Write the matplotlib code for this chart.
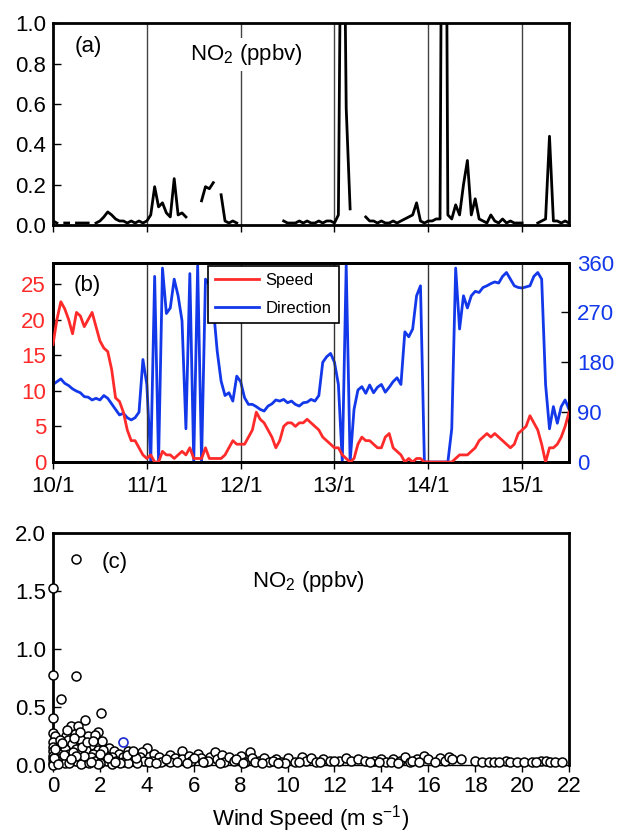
import numpy as np
import matplotlib
matplotlib.use("Agg")
import matplotlib.pyplot as plt

plt.rcParams['font.family'] = ['Liberation Sans', 'DejaVu Sans']
plt.rcParams['mathtext.fontset'] = 'custom'
plt.rcParams['mathtext.rm'] = 'Liberation Sans'
plt.rcParams['mathtext.it'] = 'Liberation Sans'

nan = np.nan

# ---------------- data ----------------
# hourly samples starting at 10/1 00:00 (132 h = 5.5 days)
hours = np.arange(133)

no2_ppbv = [
    0.02, 0.01, nan, 0.01, 0.01, nan, 0.01, 0.01, 0.01, 0.01,          # h0-9
    nan, 0.01, 0.02, 0.04, 0.065, 0.05, 0.03, 0.02, 0.02, 0.01,        # h10-19
    0.02, 0.01, 0.02, 0.01, 0.02, 0.05, 0.19, 0.09, 0.11, 0.06,        # h20-29
    0.04, 0.23, 0.05, 0.06, 0.04, nan, nan, nan, 0.12, 0.19,           # h30-39
    0.18, 0.21, nan, 0.15, 0.02, 0.01, 0.02, 0.01, nan, nan,           # h40-49
    nan, nan, nan, nan, nan, nan, nan, nan, nan, 0.02,                 # h50-59
    0.01, 0.01, 0.01, 0.02, 0.01, 0.02, 0.01, 0.01, 0.02, 0.01,        # h60-69
    0.02, 0.02, 0.01, 0.05, 2.5, 0.58, 0.08, nan, nan, nan,            # h70-79
    0.04, 0.02, 0.02, 0.01, 0.02, 0.01, 0.01, 0.02, 0.01, 0.02,        # h80-89
    0.03, 0.04, 0.05, 0.11, 0.02, 0.01, 0.02, 0.02, 0.03, 0.03,        # h90-99
    4.0, 0.05, 0.03, 0.10, 0.05, 0.20, 0.32, 0.05, 0.13, 0.03,         # h100-109
    0.02, 0.01, 0.05, 0.02, 0.01, 0.03, 0.01, 0.02, 0.01, 0.01,        # h110-119
    0.01, nan, nan, nan, 0.01, 0.02, 0.03, 0.44, 0.02, 0.02,           # h120-129
    0.01, 0.02, 0.01,                                                   # h130-132
]

wind_speed = [
    16.5, 20, 22.5, 21.5, 20, 18, 21, 20.5, 19, 20,                    # h0-9
    21, 19, 17, 16, 15.5, 13, 9, 8.5, 7, 4.5,                          # h10-19
    3, 3, 2, 1, 0.5, 1, 0, 0, 1.5, 1,                                  # h20-29
    1, 0.5, 1, 1.5, 1, 2, 0.5, 0.5, 0.5, 2,                            # h30-39
    0.5, 0.5, 0.5, 0.5, 1, 2, 3, 2.5, 2.5, 2.5,                        # h40-49
    3.5, 4.5, 7, 6, 5.5, 4.5, 3.5, 2, 3, 5,                            # h50-59
    5.5, 5.5, 5, 5.5, 5.5, 6, 5.5, 5, 4.5, 3.5,                        # h60-69
    3, 2.5, 2, 2, 1, 0.5, 0, 0.5, 2.5, 3.5,                            # h70-79
    3, 3, 2.5, 2, 2, 3.5, 4, 2, 1.5, 1,                                # h80-89
    0, 0.5, 0, 0.5, 0.5, 0, 0, 0, 0, 0,                                # h90-99
    0, 0, 0, 0.5, 1, 1, 1, 1.5, 2, 3,                                  # h100-109
    3.5, 4, 3.5, 4, 3.5, 3, 2.5, 2, 2.5, 4,                            # h110-119
    4.5, 5, 6.5, 5.5, 4.5, 2.5, 0, 2, 2, 2.5,                          # h120-129
    3.5, 5, 7,                                                          # h130-132
]

wind_direction = [
    140, 145, 150, 142, 138, 132, 128, 125, 118, 117,                  # h0-9
    112, 115, 112, 120, 115, 105, 95, 85, 88, 80,                      # h10-19
    76, 80, 90, 185, 140, 0, 335, 0, 350, 268,                         # h20-29
    278, 330, 300, 255, 60, 340, 0, 355, 0, 330,                       # h30-39
    320, 280, 200, 146, 120, 125, 110, 155, 145, 116,                  # h40-49
    104, 104, 100, 95, 92, 101, 105, 112, 110, 113,                    # h50-59
    107, 110, 104, 101, 107, 108, 113, 110, 120, 180,                  # h60-69
    190, 196, 180, 140, 0, 355, 0, 95, 130, 136,                       # h70-79
    124, 139, 125, 135, 140, 126, 135, 145, 152, 140,                  # h80-89
    235, 226, 240, 300, 318, 0, 0, 0, 0, 0,                            # h90-99
    0, 0, 60, 350, 240, 300, 278, 300, 308, 306,                       # h100-109
    315, 318, 322, 325, 323, 335, 342, 330, 318, 315,                  # h110-119
    314, 316, 318, 335, 342, 330, 140, 60, 100, 70,                    # h120-129
    100, 112, 95,                                                       # h130-132
]

date_labels = ['10/1', '11/1', '12/1', '13/1', '14/1', '15/1']

# scatter: NO2 (ppbv) versus wind speed (m s-1)
scatter_speed = [
    0, 1.0, 0, 1.0, 0.35, 2.05, 0, 1.35, 0.75, 1.05,
    0, 1.9, 0.1, 0.55, 1.5, 1.8, 0.95, 0.65, 1.2, 2.1,
    0, 0.3, 0.8, 1.6, 2.4, 0, 0.5, 1.0, 1.4, 1.9,
    2.6, 3.2, 4.0, 0, 0.25, 0.7, 1.1, 1.7, 2.2, 2.8,
    3.5, 3.8, 0, 0.4, 0.9, 1.3, 1.6, 2.0, 2.5, 3.0,
    3.3, 3.7, 0, 0.2, 0.6, 1.0, 1.4, 1.8, 2.3, 2.7,
    3.0, 3.4, 3.9, 0, 0.5, 1.2, 2.0, 2.5, 3.2, 3.6,
    0.15, 0.45, 0.85, 1.25, 1.55, 2.15, 2.85, 3.15, 3.55, 0,
    0.6, 1.15, 1.45, 0.3, 0.9, 1.7, 2.0, 0.05, 0.4, 1.3,
    0.2, 0.7, 1.0, 1.9, 2.35, 2.65, 3.4, 0.1, 0.75, 1.6,
    4.3, 4.5, 4.2, 4.6, 5.0, 5.2, 5.0, 5.5, 5.5, 5.8,
    5.9, 6.2, 6.3, 6.5, 6.7, 6.9, 7.0, 7.2, 7.3, 7.5,
    7.7, 8.0, 8.2, 8.4, 8.5, 8.8, 9.0, 9.2, 9.5, 9.7,
    10.0, 4.8, 5.3, 6.0, 6.6, 7.8, 8.6, 9.4, 9.9, 4.1,
    10.3, 10.6, 10.8, 11.0, 11.2, 11.5, 11.8, 12.2, 12.5, 12.7,
    13.0, 13.3, 13.7, 14.0, 14.2, 14.5, 14.8, 15.0, 15.2, 15.5,
    15.8, 16.0, 16.5, 16.7, 16.9, 17.4, 18.0, 18.3, 18.6, 18.8,
    19.3, 19.5, 19.8, 20.1, 20.4, 20.8, 21.0, 21.2, 21.4, 21.7,
    10.5, 11.4, 12.0, 13.5, 14.4, 15.3, 16.3, 17.0, 19.0, 20.6,
    4.4, 5.7, 6.4, 7.1, 8.1, 8.9, 9.6, 13.9, 14.7, 15.6,
]
scatter_no2 = [
    1.53, 1.78, 0.78, 0.77, 0.57, 0.45, 0.41, 0.39, 0.34, 0.34,
    0.28, 0.29, 0.25, 0.25, 0.25, 0.26, 0.27, 0.22, 0.22, 0.21,
    0.20, 0.18, 0.18, 0.17, 0.15, 0.16, 0.14, 0.14, 0.13, 0.13,
    0.12, 0.12, 0.15, 0.12, 0.10, 0.10, 0.10, 0.10, 0.09, 0.10,
    0.10, 0.11, 0.08, 0.07, 0.07, 0.06, 0.07, 0.06, 0.07, 0.07,
    0.06, 0.07, 0.05, 0.04, 0.04, 0.04, 0.03, 0.04, 0.04, 0.04,
    0.03, 0.04, 0.04, 0.02, 0.02, 0.01, 0.02, 0.01, 0.02, 0.02,
    0.02, 0.09, 0.11, 0.16, 0.02, 0.13, 0.02, 0.09, 0.06, 0.0,
    0.30, 0.29, 0.20, 0.22, 0.23, 0.21, 0.10, 0.06, 0.19, 0.08,
    0.01, 0.02, 0.08, 0.01, 0.06, 0.03, 0.12, 0.14, 0.05, 0.03,
    0.10, 0.07, 0.04, 0.03, 0.09, 0.06, 0.03, 0.12, 0.05, 0.08,
    0.04, 0.10, 0.06, 0.03, 0.07, 0.11, 0.05, 0.09, 0.03, 0.07,
    0.04, 0.08, 0.03, 0.11, 0.06, 0.04, 0.06, 0.03, 0.05, 0.03,
    0.06, 0.05, 0.03, 0.06, 0.04, 0.05, 0.03, 0.04, 0.02, 0.03,
    0.03, 0.07, 0.04, 0.06, 0.03, 0.05, 0.04, 0.04, 0.06, 0.04,
    0.05, 0.04, 0.04, 0.05, 0.03, 0.05, 0.04, 0.07, 0.03, 0.05,
    0.08, 0.05, 0.06, 0.04, 0.07, 0.05, 0.04, 0.03, 0.03, 0.03,
    0.04, 0.03, 0.03, 0.03, 0.03, 0.04, 0.04, 0.03, 0.03, 0.03,
    0.03, 0.03, 0.04, 0.03, 0.03, 0.04, 0.03, 0.05, 0.03, 0.03,
    0.02, 0.02, 0.03, 0.02, 0.02, 0.02, 0.02, 0.03, 0.02, 0.03,
]
highlight_speed = [3.0]
highlight_no2 = [0.20]

# ---------------- style ----------------
RED = '#ff2a2a'
BLUE = '#1238ea'
FS = 16
days = hours / 24.0

fig = plt.figure(figsize=(6.2, 8.39), dpi=100)
ax_a = fig.add_axes([0.0855, 0.7318, 0.8323, 0.2404])
ax_b = fig.add_axes([0.0855, 0.4493, 0.8323, 0.2378])
ax_c = fig.add_axes([0.0855, 0.0880, 0.8323, 0.2764])

# ---------------- panel (a) ----------------
for d in range(1, 6):
    ax_a.axvline(d, color='#444444', lw=1.0, zorder=1)
ax_a.plot(days, no2_ppbv, color='black', lw=2.0, zorder=3)
ax_a.set_xlim(0, 5.5)
ax_a.set_ylim(0, 1.0)
ax_a.set_xticks(range(6))
ax_a.set_xticklabels([])
ax_a.set_yticks(np.arange(0, 1.01, 0.2))
ax_a.set_yticklabels(['%.1f' % v for v in np.arange(0, 1.01, 0.2)])
ax_a.tick_params(axis='y', direction='in', length=6, width=1, labelsize=FS, pad=5)
ax_a.tick_params(axis='x', direction='out', length=5, width=1)
ax_a.text(0.068, 0.887, '(a)', transform=ax_a.transAxes, fontsize=FS,
          ha='center', va='center')
ax_a.text(0.374, 0.845, 'NO$_2$ (ppbv)', transform=ax_a.transAxes, fontsize=FS,
          ha='center', va='center', zorder=5,
          bbox=dict(facecolor='white', edgecolor='none', pad=3))

# ---------------- panel (b) ----------------
ax_b2 = ax_b.twinx()
ax_b.set_zorder(ax_b2.get_zorder() + 1)
ax_b.patch.set_visible(False)
for d in range(1, 6):
    ax_b.axvline(d, color='#333333', lw=1.0, zorder=1)
ln_s, = ax_b.plot(days, wind_speed, color=RED, lw=2.0, label='Speed', zorder=3)
ln_d, = ax_b2.plot(days, wind_direction, color=BLUE, lw=2.0, label='Direction', zorder=3)
ax_b.set_xlim(0, 5.5)
ax_b.set_ylim(0, 28)
ax_b2.set_ylim(0, 360)
ax_b.set_yticks([0, 5, 10, 15, 20, 25])
ax_b2.set_yticks([0, 90, 180, 270, 360])
ax_b.set_xticks(range(6))
ax_b.set_xticklabels(date_labels)
ax_b.tick_params(axis='y', direction='in', length=6, width=1, labelsize=FS,
                 labelcolor=RED, pad=5)
ax_b2.tick_params(axis='y', direction='in', length=6, width=1, labelsize=FS,
                  labelcolor=BLUE, pad=6)
ax_b.tick_params(axis='x', direction='out', length=5, width=1, labelsize=FS, pad=5)
ax_b.text(0.066, 0.885, '(b)', transform=ax_b.transAxes, fontsize=FS,
          ha='center', va='center')
leg = ax_b.legend(handles=[ln_s, ln_d], loc='upper left',
                  bbox_to_anchor=(0.300, 0.985), borderaxespad=0,
                  fontsize=12, frameon=True, fancybox=False, framealpha=1,
                  edgecolor='black', handlelength=2.6, labelspacing=0.75,
                  borderpad=0.45, handletextpad=0.4)
leg.get_frame().set_linewidth(1.2)
leg.set_zorder(10)

# ---------------- panel (c) ----------------
ax_c.scatter(scatter_speed, scatter_no2, s=42, facecolor='white',
             edgecolor='black', linewidths=1.1, clip_on=False, zorder=3)
ax_c.scatter(highlight_speed, highlight_no2, s=42, facecolor='white',
             edgecolor='#1a2ad0', linewidths=1.2, clip_on=False, zorder=4)
ax_c.set_xlim(0, 22)
ax_c.set_ylim(0, 2.0)
ax_c.set_xticks(range(0, 23, 2))
ax_c.set_yticks([0, 0.5, 1.0, 1.5, 2.0])
ax_c.set_yticklabels(['0.0', '0.5', '1.0', '1.5', '2.0'])
ax_c.tick_params(axis='y', direction='in', length=6, width=1, labelsize=FS, pad=5)
ax_c.tick_params(axis='x', direction='out', length=5, width=1, labelsize=FS, pad=3)
ax_c.set_xlabel('Wind Speed (m s$^{-1}$)', fontsize=FS, labelpad=4)
ax_c.text(0.12, 0.875, '(c)', transform=ax_c.transAxes, fontsize=FS,
          ha='center', va='center')
ax_c.text(0.495, 0.79, 'NO$_2$ (ppbv)', transform=ax_c.transAxes, fontsize=FS,
          ha='center', va='center')

for ax in (ax_a, ax_b, ax_b2, ax_c):
    for sp in ax.spines.values():
        sp.set_linewidth(2.0)
ax_c.spines['bottom'].set_linewidth(1.0)

fig.savefig('out.png', dpi=100)
